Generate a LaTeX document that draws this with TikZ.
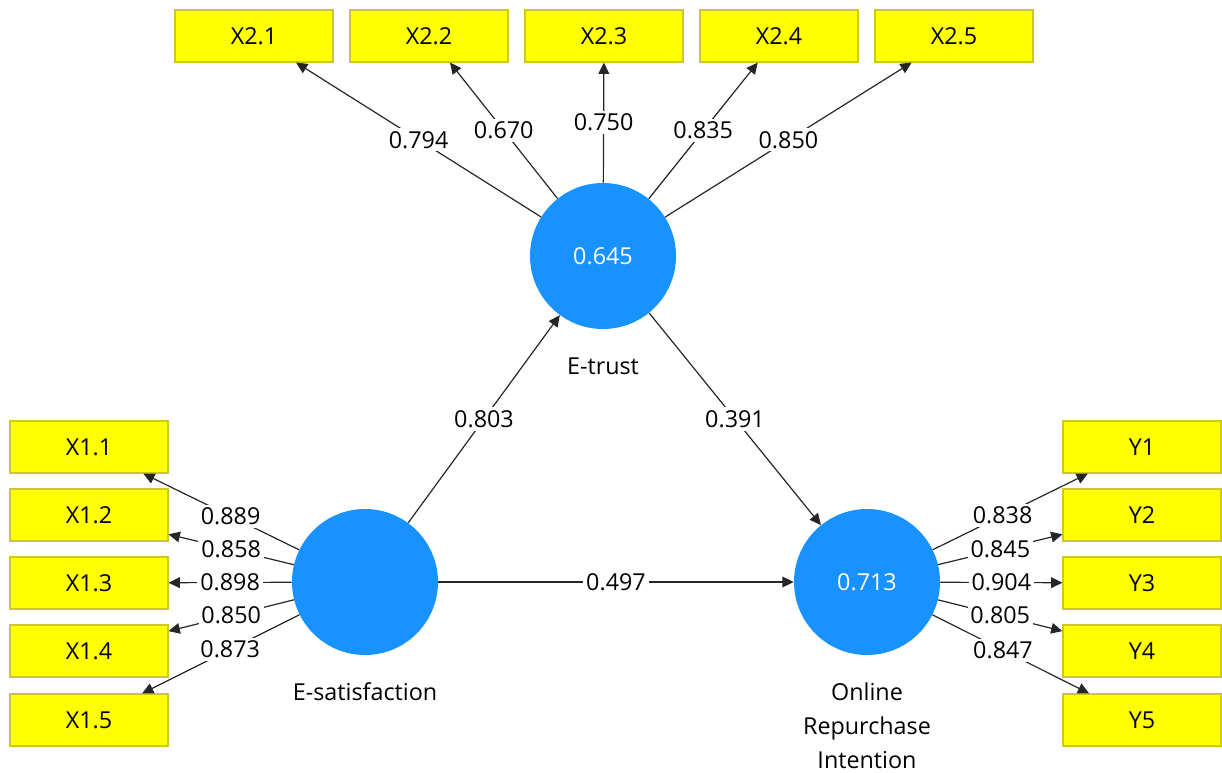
\documentclass[tikz,border=0pt]{standalone}
\usepackage{fontspec}
\setmainfont{Open Sans}
\usetikzlibrary{arrows.meta,positioning}

\definecolor{latentblue}{RGB}{24,146,255}
\definecolor{itemyellow}{RGB}{255,255,0}
\definecolor{itemborder}{RGB}{205,200,40}

\begin{document}
\begin{tikzpicture}[x=0.75pt,y=-0.75pt,
        font=\fontsize{17.5}{25.5}\selectfont,
        latent/.style={circle, fill=latentblue, text=white, minimum size=109.5pt, inner sep=0pt},
        indicator/.style={rectangle, fill=itemyellow, draw=itemborder, line width=0.8pt,
            minimum width=118.5pt, minimum height=39pt, inner sep=0pt},
        loading/.style={draw=black!85, line width=0.9pt, -{Triangle[length=8.5pt,width=8pt]}},
        coef/.style={fill=white, inner sep=2.2pt}]
        \useasboundingbox (0,0) rectangle (1222,772);

        % latent variables
        \node[latent] (etrust) at (603,256) {0.645};
        \node[latent] (esat) at (365,582) {};
        \node[latent] (ori) at (867,582) {0.713};

        \node[below=18pt of etrust] (etrustlbl) {E-trust};
        \node[below=17pt of esat] (esatlbl) {E-satisfaction};
        \node[below=17pt of ori, align=center] (orilbl) {Online\\Repurchase\\Intention};

        % indicators of E-trust
        \node[indicator] (x21) at (254,36) {X2.1};
        \node[indicator] (x22) at (429,36) {X2.2};
        \node[indicator] (x23) at (604,36) {X2.3};
        \node[indicator] (x24) at (779,36) {X2.4};
        \node[indicator] (x25) at (954,36) {X2.5};

        % indicators of E-satisfaction
        \node[indicator] (x11) at (89,447) {X1.1};
        \node[indicator] (x12) at (89,515) {X1.2};
        \node[indicator] (x13) at (89,583) {X1.3};
        \node[indicator] (x14) at (89,651) {X1.4};
        \node[indicator] (x15) at (89,720) {X1.5};

        % indicators of Online Repurchase Intention
        \node[indicator] (y1) at (1142,447) {Y1};
        \node[indicator] (y2) at (1142,515) {Y2};
        \node[indicator] (y3) at (1142,583) {Y3};
        \node[indicator] (y4) at (1142,651) {Y4};
        \node[indicator] (y5) at (1142,720) {Y5};

        % outer loadings
        \draw[loading] (etrust) -- (x21) node[coef, midway] {0.794};
        \draw[loading] (etrust) -- (x22) node[coef, midway] {0.670};
        \draw[loading] (etrust) -- (x23) node[coef, midway] {0.750};
        \draw[loading] (etrust) -- (x24) node[coef, midway] {0.835};
        \draw[loading] (etrust) -- (x25) node[coef, midway] {0.850};

        \draw[loading] (esat) -- (x11) node[coef, pos=0.44] {0.889};
        \draw[loading] (esat) -- (x12) node[coef, midway] {0.858};
        \draw[loading] (esat) -- (x13) node[coef, midway] {0.898};
        \draw[loading] (esat) -- (x14) node[coef, midway] {0.850};
        \draw[loading] (esat) -- (x15) node[coef, pos=0.44] {0.873};

        \draw[loading] (ori) -- (y1) node[coef, pos=0.45] {0.838};
        \draw[loading] (ori) -- (y2) node[coef, midway] {0.845};
        \draw[loading] (ori) -- (y3) node[coef, midway] {0.904};
        \draw[loading] (ori) -- (y4) node[coef, midway] {0.805};
        \draw[loading] (ori) -- (y5) node[coef, pos=0.45] {0.847};

        % path coefficients
        \draw[loading] (esat) -- (etrust) node[coef, midway] {0.803};
        \draw[loading] (etrust) -- (ori) node[coef, midway] {0.391};
        \draw[loading] (esat) -- (ori) node[coef, midway] {0.497};
\end{tikzpicture}
\end{document}
